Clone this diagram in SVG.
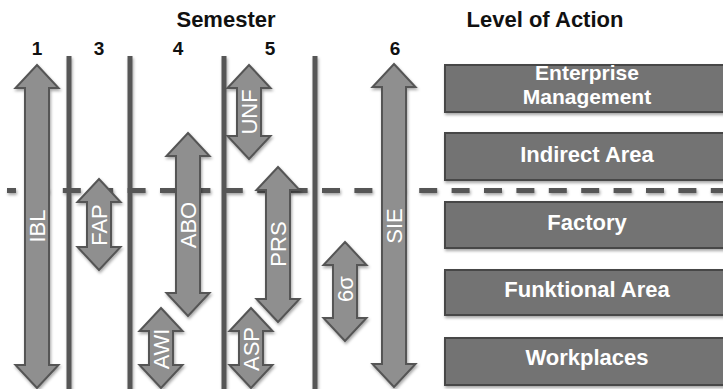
<svg xmlns="http://www.w3.org/2000/svg" width="723" height="389" viewBox="0 0 723 389">
  <defs>
    <filter id="shadow" x="-20%" y="-20%" width="140%" height="140%">
      <feDropShadow dx="1" dy="2" stdDeviation="1.5" flood-color="#000" flood-opacity="0.35"/>
    </filter>
  </defs>
  <style>
    .hdr { font-family: "Liberation Sans", Arial, sans-serif; font-weight: bold; font-size: 22px; fill: #111; text-anchor: middle; }
    .num { font-family: "Liberation Sans", Arial, sans-serif; font-weight: bold; font-size: 19px; fill: #111; text-anchor: middle; }
    .sep { stroke: #575757; stroke-width: 5; }
    .dash { stroke: #575757; stroke-width: 5; stroke-dasharray: 18 14.4; stroke-dashoffset: 9; }
    .arrow { fill: #8f8f8f; stroke: #555; stroke-width: 2; stroke-linejoin: miter; filter: url(#shadow); }
    .alab { font-family: "Liberation Sans", Arial, sans-serif; font-size: 22px; fill: #fff; text-anchor: middle; }
    .box { fill: #737373; stroke: #474747; stroke-width: 2; filter: url(#shadow); }
    .blab { font-family: "Liberation Sans", Arial, sans-serif; font-weight: bold; font-size: 22px; fill: #fff; text-anchor: middle; }
    .blab2 { font-family: "Liberation Sans", Arial, sans-serif; font-weight: bold; font-size: 21px; fill: #fff; text-anchor: middle; }
  </style>

  <!-- headings -->
  <text class="hdr" x="226" y="27">Semester</text>
  <text class="hdr" x="545" y="27">Level of Action</text>
  <g id="semester-numbers">
    <text class="num" x="37" y="55">1</text>
    <text class="num" x="99" y="55">3</text>
    <text class="num" x="178" y="55">4</text>
    <text class="num" x="270" y="55">5</text>
    <text class="num" x="395" y="55">6</text>
  </g>

  <!-- semester separators and level boundary -->
  <g id="separators" filter="url(#shadow)">
    <line class="sep" x1="69" y1="56" x2="69" y2="389"/>
    <line class="sep" x1="130" y1="56" x2="130" y2="389"/>
    <line class="sep" x1="224" y1="56" x2="224" y2="389"/>
    <line class="sep" x1="315" y1="56" x2="315" y2="389"/>
    <line class="dash" x1="7" y1="190.5" x2="723" y2="190.5"/>
  </g>

  <!-- course arrows (double-headed, vertical) -->
  <g id="connectors">
    <g id="IBL">
      <path class="arrow" d="M37,65 L58.5,88 L49,88 L49,365 L58.5,365 L37,388 L15.5,365 L25,365 L25,88 L15.5,88 Z"/>
      <text class="alab" transform="translate(45,226) rotate(-90)">IBL</text>
    </g>
    <g id="FAP">
      <path class="arrow" d="M99,179 L120.5,202 L111,202 L111,247 L120.5,247 L99,270 L77.5,247 L87,247 L87,202 L77.5,202 Z"/>
      <text class="alab" transform="translate(107,225) rotate(-90)">FAP</text>
    </g>
    <g id="ABO">
      <path class="arrow" d="M188,133 L209.5,156 L200,156 L200,293 L209.5,293 L188,316 L166.5,293 L176,293 L176,156 L166.5,156 Z"/>
      <text class="alab" transform="translate(196,225) rotate(-90)">ABO</text>
    </g>
    <g id="AWI">
      <path class="arrow" d="M161,308 L182.5,331 L173,331 L173,365 L182.5,365 L161,388 L139.5,365 L149,365 L149,331 L139.5,331 Z"/>
      <text class="alab" transform="translate(169,349) rotate(-90)">AWI</text>
    </g>
    <g id="UNF">
      <path class="arrow" d="M249,65 L270.5,88 L261,88 L261,136 L270.5,136 L249,159 L227.5,136 L237,136 L237,88 L227.5,88 Z"/>
      <text class="alab" transform="translate(257,112) rotate(-90)">UNF</text>
    </g>
    <g id="PRS">
      <path class="arrow" d="M278,167 L299.5,190 L290,190 L290,299 L299.5,299 L278,322 L256.5,299 L266,299 L266,190 L256.5,190 Z"/>
      <text class="alab" transform="translate(286,244) rotate(-90)">PRS</text>
    </g>
    <g id="ASP">
      <path class="arrow" d="M251,308 L272.5,331 L263,331 L263,365 L272.5,365 L251,388 L229.5,365 L239,365 L239,331 L229.5,331 Z"/>
      <text class="alab" transform="translate(259,349) rotate(-90)">ASP</text>
    </g>
    <g id="six-sigma">
      <path class="arrow" d="M345,242 L366.5,265 L357,265 L357,318 L366.5,318 L345,341 L323.5,318 L333,318 L333,265 L323.5,265 Z"/>
      <text class="alab" transform="translate(353,289) rotate(-90)">6σ</text>
    </g>
    <g id="SIE">
      <path class="arrow" d="M394,64 L415.5,87 L406,87 L406,364 L415.5,364 L394,387 L372.5,364 L382,364 L382,87 L372.5,87 Z"/>
      <text class="alab" transform="translate(402,226) rotate(-90)">SIE</text>
    </g>
  </g>

  <!-- levels of action -->
  <g id="enterprise-management">
    <rect class="box" x="445" y="65" width="290" height="47"/>
    <text class="blab2" x="587" y="80">Enterprise</text>
    <text class="blab2" x="587" y="104">Management</text>
  </g>
  <g id="indirect-area">
    <rect class="box" x="445" y="133" width="290" height="47"/>
    <text class="blab" x="587" y="162">Indirect Area</text>
  </g>
  <g id="factory">
    <rect class="box" x="445" y="202" width="290" height="46"/>
    <text class="blab" x="587" y="230">Factory</text>
  </g>
  <g id="funktional-area">
    <rect class="box" x="445" y="270" width="290" height="45"/>
    <text class="blab" x="587" y="297">Funktional Area</text>
  </g>
  <g id="workplaces">
    <rect class="box" x="445" y="338" width="290" height="47"/>
    <text class="blab" x="587" y="365">Workplaces</text>
  </g>
</svg>
